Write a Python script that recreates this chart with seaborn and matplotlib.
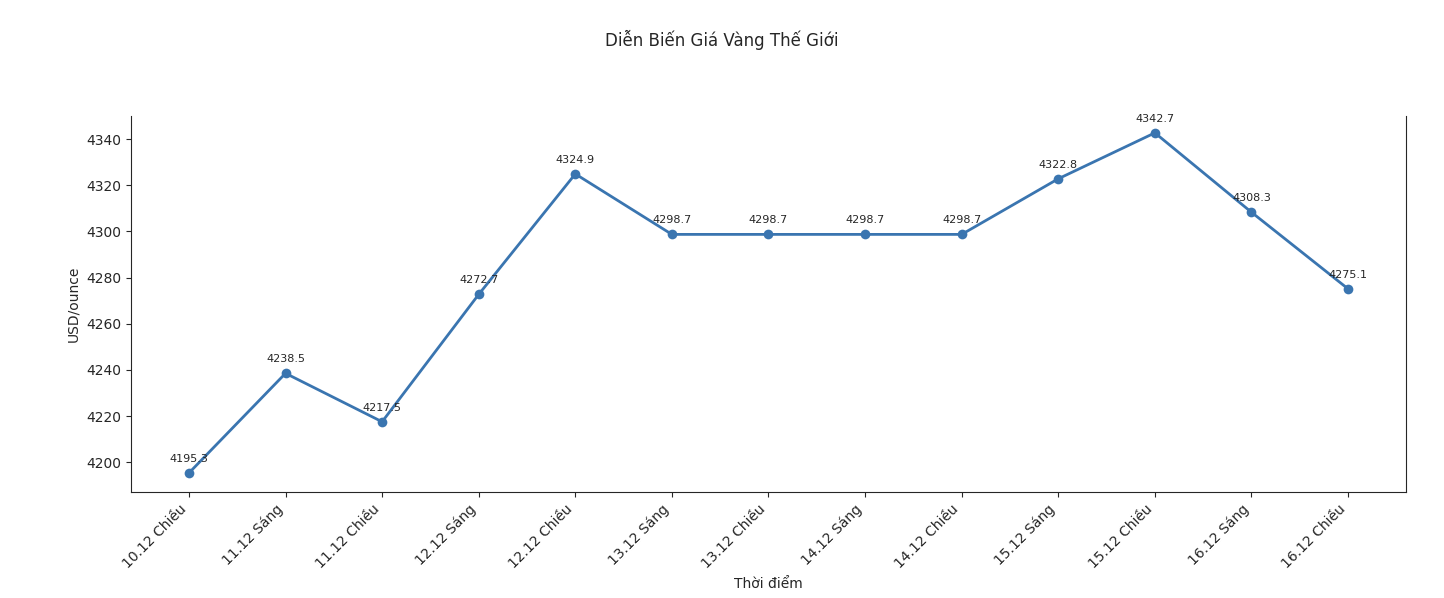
import matplotlib
matplotlib.use("Agg")
import matplotlib.pyplot as plt
import seaborn as sns
import pandas as pd

labels = ["10.12 Chiều", "11.12 Sáng", "11.12 Chiều", "12.12 Sáng", "12.12 Chiều",
          "13.12 Sáng", "13.12 Chiều", "14.12 Sáng", "14.12 Chiều", "15.12 Sáng",
          "15.12 Chiều", "16.12 Sáng", "16.12 Chiều"]
prices = [4195.3, 4238.5, 4217.5, 4272.7, 4324.9, 4298.7, 4298.7, 4298.7, 4298.7,
          4322.8, 4342.7, 4308.3, 4275.1]

sns.set_style("ticks")
df = pd.DataFrame({"x": range(len(labels)), "price": prices})

fig = plt.figure(figsize=(14.44, 5.98), dpi=100)
ax = fig.add_axes([0.0907, 0.177, 0.883, 0.629])
sns.lineplot(data=df, x="x", y="price", ax=ax, color="#3a75b0", linewidth=2,
             marker="o", markersize=7, markeredgewidth=0)
for i, v in enumerate(prices):
    ax.annotate(f"{v}", (i, v), textcoords="offset points", xytext=(0, 8),
                ha="center", fontsize=8)
ax.set_xticks(range(len(labels)))
ax.set_xticklabels(labels, rotation=45, ha="right")
ax.set_xlim(-0.6, 12.6)
ax.set_ylim(4187, 4350)
ax.set_xlabel("Thời điểm")
ax.set_ylabel("USD/ounce")
ax.spines["top"].set_visible(False)
fig.suptitle("Diễn Biến Giá Vàng Thế Giới", y=0.95, fontsize=12)
fig.savefig("out.png", dpi=100)
